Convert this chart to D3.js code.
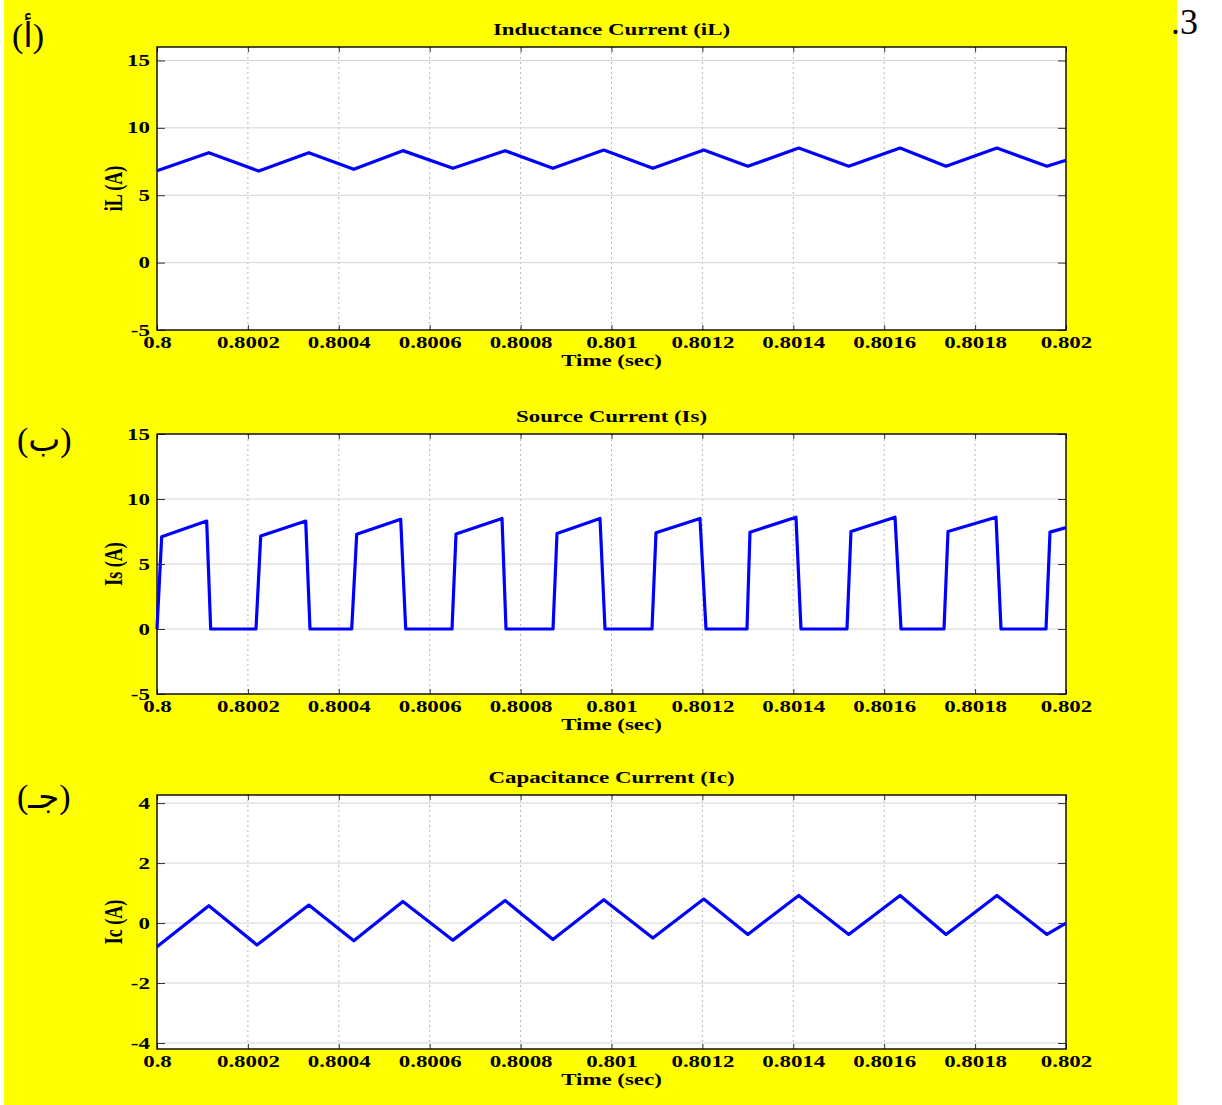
<!DOCTYPE html>
<html>
<head>
<meta charset="utf-8">
<script src="https://cdn.jsdelivr.net/npm/d3@7/dist/d3.min.js"></script>
<style>
  body { margin: 0; background: #fff; }
  svg { display: block; }
  .tick text { font-family: "Liberation Serif", "Times New Roman", serif; font-weight: bold; font-size: 16px; fill: #000; }
  .lbl { font-family: "Liberation Serif", "Times New Roman", serif; font-weight: bold; font-size: 16px; fill: #000; }
  .tag { font-family: "Liberation Serif", "DejaVu Sans", serif; font-size: 34px; fill: #000; }
</style>
</head>
<body>
<div id="chart"></div>
<script>
// x axis (time, sec)
const xTicks = [0.8, 0.8002, 0.8004, 0.8006, 0.8008, 0.801, 0.8012, 0.8014, 0.8016, 0.8018, 0.802];
const xTickLabels = ['0.8', '0.8002', '0.8004', '0.8006', '0.8008', '0.801', '0.8012', '0.8014', '0.8016', '0.8018', '0.802'];

// inductance current iL
const iLTime = [0.800000, 0.800114, 0.800224, 0.800334, 0.800433, 0.800541, 0.800651, 0.800766, 0.800871, 0.800983,
                0.801091, 0.801203, 0.801300, 0.801412, 0.801522, 0.801635, 0.801736, 0.801848, 0.801958, 0.802000];
const iLVal  = [6.81, 8.16, 6.79, 8.16, 6.92, 8.31, 7.0, 8.3, 7.0, 8.35,
                7.0, 8.35, 7.15, 8.5, 7.15, 8.5, 7.15, 8.5, 7.15, 7.6];

// source current Is
const isTime = [0.8000000, 0.8000103, 0.8001093, 0.8001181, 0.8002178, 0.8002282, 0.8003272, 0.8003366,
                0.8004284, 0.8004394, 0.8005362, 0.8005472, 0.8006491, 0.8006579, 0.8007591, 0.8007679,
                0.8008713, 0.8008801, 0.8009747, 0.8009857, 0.8010891, 0.8010979, 0.8011947, 0.8012079,
                0.8012981, 0.8013047, 0.8014059, 0.8014169, 0.8015181, 0.8015269, 0.8016238, 0.8016370,
                0.8017316, 0.8017404, 0.8018460, 0.8018570, 0.8019560, 0.8019648, 0.8020000];
const isVal  = [0, 7.1, 8.3, 0, 0, 7.15, 8.3, 0,
                0, 7.28, 8.44, 0, 0, 7.3, 8.5, 0,
                0, 7.35, 8.5, 0, 0, 7.4, 8.5, 0,
                0, 7.45, 8.6, 0, 0, 7.5, 8.6, 0,
                0, 7.5, 8.6, 0, 0, 7.45, 7.8];

// capacitance current Ic
const icTime = [0.800000, 0.800114, 0.800220, 0.800334, 0.800433, 0.800541, 0.800651, 0.800766, 0.800871, 0.800983,
                0.801091, 0.801203, 0.801300, 0.801412, 0.801522, 0.801635, 0.801736, 0.801848, 0.801958, 0.802000];
const icVal  = [-0.79, 0.58, -0.73, 0.6, -0.59, 0.72, -0.57, 0.75, -0.55, 0.78,
                -0.5, 0.8, -0.38, 0.92, -0.38, 0.92, -0.38, 0.92, -0.38, 0.0];

const yTicksCurrent = [-5, 0, 5, 10, 15];
const yTicksIc = [-4, -2, 0, 2, 4];

const W = 1222, H = 1105;
const left = 157, right = 1066;
const SX = 1.43; // figure is stretched sideways

const svg = d3.select('#chart').append('svg')
  .attr('width', W).attr('height', H)
  .attr('role', 'img')
  .attr('aria-label', 'Inductance, source and capacitance currents vs time');

svg.append('rect').attr('x', 4).attr('y', 0).attr('width', 1173).attr('height', H).attr('fill', '#ffff00');

svg.append('text').attr('class', 'tag').attr('x', 1171).attr('y', 34)
  .attr('direction', 'ltr')
  .style('font-size', '36px').text('.3');

const panels = [
  { top: 47, bottom: 330, domain: [-5, 16], ticks: yTicksCurrent, title: 'Inductance Current (iL)', ylabel: 'iL (A)',
    tag: '(أ)', tagX: 12, tagY: 47, time: iLTime, val: iLVal },
  { top: 434, bottom: 694, domain: [-5, 15], ticks: yTicksCurrent, title: 'Source Current (Is)', ylabel: 'Is (A)',
    tag: '(ب)', tagX: 17, tagY: 451, time: isTime, val: isVal },
  { top: 795, bottom: 1049, domain: [-4.2, 4.27], ticks: yTicksIc, title: 'Capacitance Current (Ic)', ylabel: 'Ic (A)',
    tag: '(جـ)', tagX: 17, tagY: 808, time: icTime, val: icVal }
];

const x = d3.scaleLinear().domain([0.8, 0.802]).range([left, right]);

panels.forEach(p => {
  const y = d3.scaleLinear().domain(p.domain).range([p.bottom, p.top]);
  const g = svg.append('g');

  g.append('rect').attr('x', left).attr('y', p.top)
    .attr('width', right - left).attr('height', p.bottom - p.top).attr('fill', '#fff');

  // grid
  g.append('g').selectAll('line').data(xTicks.slice(1, -1)).join('line')
    .attr('x1', d => x(d)).attr('x2', d => x(d))
    .attr('y1', p.top).attr('y2', p.bottom)
    .attr('stroke', '#b8b8b8').attr('stroke-width', 1).attr('stroke-dasharray', '2,3');
  g.append('g').selectAll('line').data(p.ticks.filter(t => y(t) > p.top + 1 && y(t) < p.bottom - 1)).join('line')
    .attr('x1', left).attr('x2', right)
    .attr('y1', d => y(d)).attr('y2', d => y(d))
    .attr('stroke', '#d4d4d4').attr('stroke-width', 1);

  // axes (ticks inside, like matlab)
  const ax = g.append('g').attr('transform', `translate(${left},0)`)
    .call(d3.axisLeft(y).tickValues(p.ticks).tickSize(-8).tickPadding(5).tickFormat(d => String(d)));
  ax.selectAll('text').attr('transform', `scale(${SX},1)`);
  g.append('g').attr('transform', `translate(${right},0)`)
    .call(d3.axisRight(y).tickValues(p.ticks).tickSize(-8).tickFormat(''));
  const bx = g.append('g').attr('transform', `translate(0,${p.bottom})`)
    .call(d3.axisBottom(x).tickValues(xTicks).tickSize(-5).tickPadding(7).tickFormat((d, i) => xTickLabels[i]));
  bx.selectAll('text').attr('transform', `scale(${SX},1)`);
  g.append('g').attr('transform', `translate(0,${p.top})`)
    .call(d3.axisTop(x).tickValues(xTicks).tickSize(-5).tickFormat(''));
  g.selectAll('.domain').remove();
  g.selectAll('.tick line').attr('stroke', '#333');

  g.append('rect').attr('x', left).attr('y', p.top)
    .attr('width', right - left).attr('height', p.bottom - p.top)
    .attr('fill', 'none').attr('stroke', '#000').attr('stroke-width', 1.4);

  // series
  const idx = d3.range(p.time.length);
  g.append('path').datum(idx)
    .attr('fill', 'none').attr('stroke', '#0000ff').attr('stroke-width', 3.2)
    .attr('stroke-linejoin', 'round')
    .attr('d', d3.line().x(i => x(p.time[i])).y(i => y(p.val[i])));

  // labels
  g.append('text').attr('class', 'lbl').attr('text-anchor', 'middle')
    .attr('transform', `translate(${(left + right) / 2},${p.top - 12}) scale(${SX},1)`)
    .text(p.title);
  g.append('text').attr('class', 'lbl').attr('text-anchor', 'middle')
    .attr('transform', `translate(${(left + right) / 2},${p.bottom + 36}) scale(${SX},1)`)
    .text('Time (sec)');
  g.append('text').attr('class', 'lbl').attr('text-anchor', 'middle')
    .style('font-size', '18px')
    .attr('transform', `translate(122,${(p.top + p.bottom) / 2}) rotate(-90) scale(1,${SX})`)
    .text(p.ylabel);

  svg.append('text').attr('class', 'tag').attr('x', p.tagX).attr('y', p.tagY).text(p.tag);
});
</script>
</body>
</html>
